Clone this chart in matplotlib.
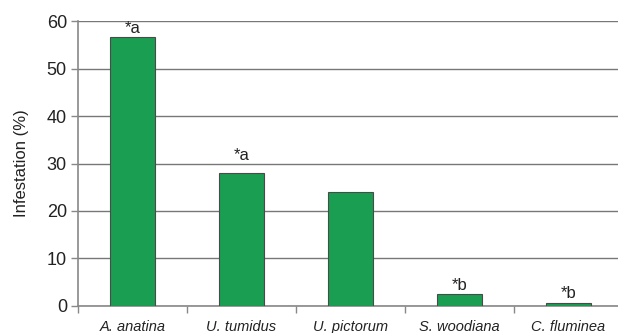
import matplotlib
matplotlib.use("Agg")
import matplotlib.pyplot as plt
import numpy as np

plt.rcParams['font.family'] = ['Liberation Sans', 'DejaVu Sans']

species = ["A. anatina", "U. tumidus", "U. pictorum", "S. woodiana", "C. fluminea"]
infestation = [56.6, 28.0, 23.9, 2.4, 0.6]
sig_labels = ["*a", "*a", "", "*b", "*b"]
label_offsets_pt = [1, 7, 0, 1, 1]

fig = plt.figure(figsize=(6.18, 3.33), dpi=100)
ax = fig.add_axes([78 / 618, 27.3 / 333, 545 / 618, 284.4 / 333])

x = np.arange(len(species))
ax.bar(x, infestation, width=0.405, color="#1a9e52", edgecolor="#4a4a4a",
       linewidth=0.8, zorder=3)

for xi, v, lab, off in zip(x, infestation, sig_labels, label_offsets_pt):
    if lab:
        ax.annotate(lab, (xi, v), xytext=(0, off), textcoords="offset points",
                    ha="center", va="bottom", fontsize=12, color="#222222")

ax.set_xlim(-0.5, len(species) - 0.5)
ax.set_ylim(0, 60)
ax.set_yticks(range(0, 61, 10))
ax.yaxis.grid(True, color="#777777", linewidth=1.0, zorder=0)
ax.set_axisbelow(True)

ax.set_xticks(np.arange(-0.5, len(species), 1.0), minor=False)
ax.set_xticklabels([])
ax.set_xticks(x, minor=True)
ax.set_xticklabels(species, minor=True, fontstyle="italic", fontsize=10.5,
                   color="#222222")
ax.tick_params(axis="x", which="minor", length=0, pad=10)
ax.tick_params(axis="x", which="major", length=5, width=1, color="#888888",
               direction="out")
ax.tick_params(axis="y", length=5, width=1, color="#888888", labelsize=13,
               labelcolor="#222222", pad=3)

for side in ["top", "right"]:
    ax.spines[side].set_visible(False)
for side in ["left", "bottom"]:
    ax.spines[side].set_color("#888888")
    ax.spines[side].set_linewidth(1.2)

ax.set_ylabel("Infestation (%)", fontsize=12, color="#222222", labelpad=13)

fig.savefig("out.png", dpi=100)
